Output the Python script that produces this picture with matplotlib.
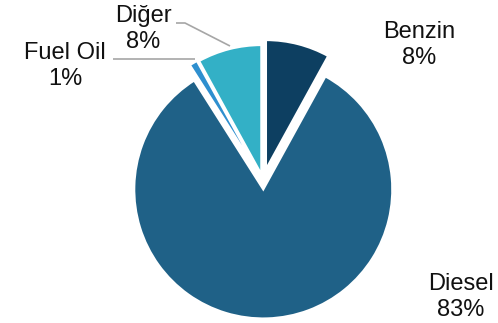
import matplotlib
matplotlib.use("Agg")
import matplotlib.pyplot as plt

# Fuel consumption shares
categories = ["Benzin", "Diesel", "Fuel Oil", "Diğer"]
shares = [8, 83, 1, 8]
colors = ["#0d3f61", "#1f6187", "#2e8fcf", "#33b0c6"]
explode = [0.093, 0.068, 0.06, 0.053]

W, H = 498, 323
R_PX = 129.0          # pie radius in pixels
CX, CY = 263.0, 180.7 # pie centre in pixels (from top-left)

plt.rcParams["font.family"] = ["Liberation Sans", "DejaVu Sans"]

fig = plt.figure(figsize=(W / 100, H / 100), dpi=100)
ax = fig.add_axes([0, 0, 1, 1])


def px(x, y):
    """Pixel position (top-left origin) to data coordinates."""
    return (x - CX) / R_PX, (CY - y) / R_PX


ax.pie(shares, colors=colors, startangle=90, counterclock=False,
       radius=1.0, center=(0, 0), explode=explode,
       wedgeprops=dict(edgecolor="white", linewidth=1.5))

# pie() resets the limits, so fix them afterwards
ax.set_aspect("auto")
ax.set_xlim(-CX / R_PX, (W - CX) / R_PX)
ax.set_ylim(-(H - CY) / R_PX, CY / R_PX)
ax.axis("off")

# Data labels
label_pos = {
    "Benzin": (419, 45),
    "Diesel": (461, 297),
    "Fuel Oil": (65, 66),
    "Diğer": (143, 29),
}
for name, val in zip(categories, shares):
    x, y = px(*label_pos[name])
    ax.text(x, y, f"{name}\n{val}%", ha="center", va="center",
            fontsize=17, color="#111111", linespacing=1.2)

# Leader lines
lc = "#a6a6a6"
xs, ys = zip(px(176, 23), px(185, 23), px(230, 46))
ax.plot(xs, ys, color=lc, lw=1.2, solid_capstyle="butt")
xs, ys = zip(px(113, 59), px(195, 59))
ax.plot(xs, ys, color=lc, lw=1.2, solid_capstyle="butt")

fig.savefig("out.png", dpi=100)
